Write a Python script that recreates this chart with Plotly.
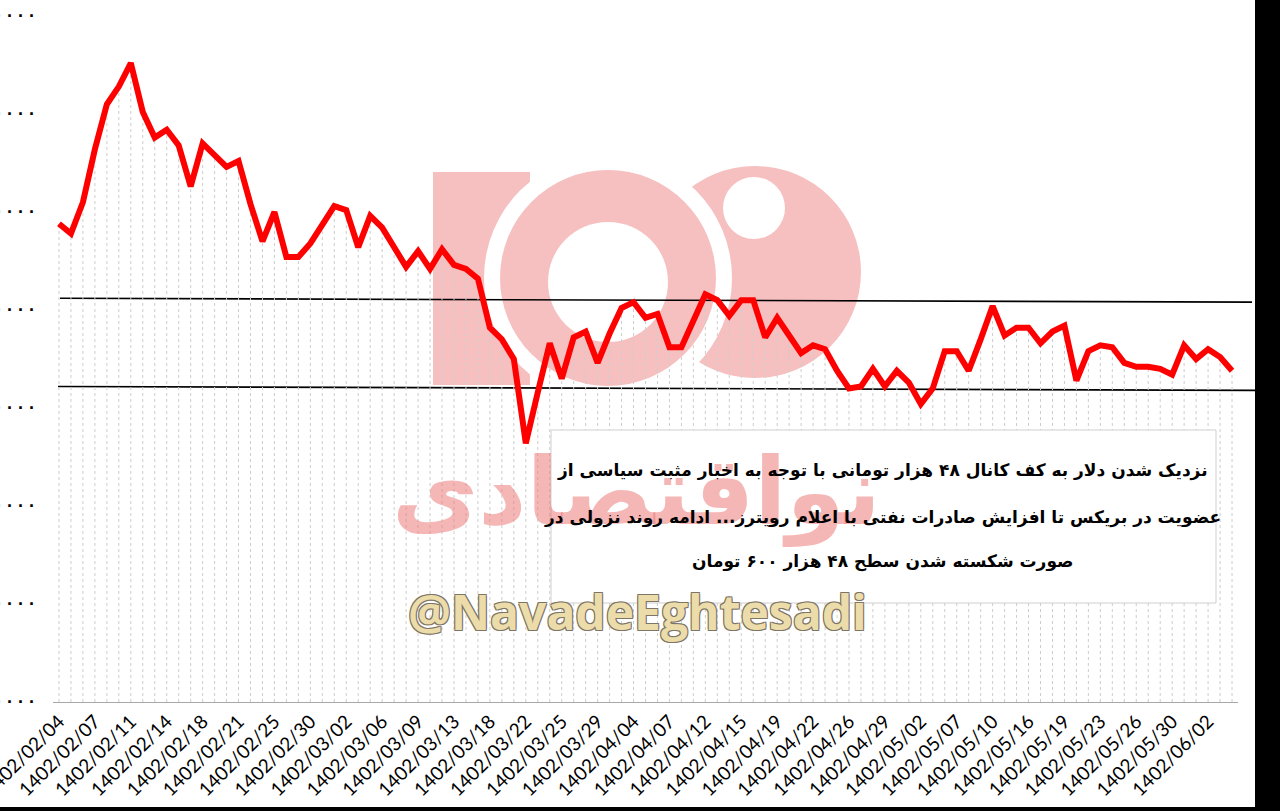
import plotly.graph_objects as go

# ---------------- data ----------------
dates = [
    "1402/02/04", "1402/02/05", "1402/02/06", "1402/02/07", "1402/02/09", "1402/02/10",
    "1402/02/11", "1402/02/12", "1402/02/13", "1402/02/14", "1402/02/16", "1402/02/17",
    "1402/02/18", "1402/02/19", "1402/02/20", "1402/02/21", "1402/02/23", "1402/02/24",
    "1402/02/25", "1402/02/26", "1402/02/27", "1402/02/30", "1402/02/31", "1402/03/01",
    "1402/03/02", "1402/03/03", "1402/03/04", "1402/03/06", "1402/03/07", "1402/03/08",
    "1402/03/09", "1402/03/10", "1402/03/11", "1402/03/13", "1402/03/16", "1402/03/17",
    "1402/03/18", "1402/03/20", "1402/03/21", "1402/03/22", "1402/03/23", "1402/03/24",
    "1402/03/25", "1402/03/27", "1402/03/28", "1402/03/29", "1402/04/01", "1402/04/03",
    "1402/04/04", "1402/04/05", "1402/04/06", "1402/04/07", "1402/04/10", "1402/04/11",
    "1402/04/12", "1402/04/13", "1402/04/14", "1402/04/15", "1402/04/17", "1402/04/18",
    "1402/04/19", "1402/04/20", "1402/04/21", "1402/04/22", "1402/04/24", "1402/04/25",
    "1402/04/26", "1402/04/27", "1402/04/28", "1402/04/29", "1402/04/31", "1402/05/01",
    "1402/05/02", "1402/05/03", "1402/05/04", "1402/05/07", "1402/05/08", "1402/05/09",
    "1402/05/10", "1402/05/14", "1402/05/15", "1402/05/16", "1402/05/17", "1402/05/18",
    "1402/05/19", "1402/05/21", "1402/05/22", "1402/05/23", "1402/05/24", "1402/05/25",
    "1402/05/26", "1402/05/28", "1402/05/29", "1402/05/30", "1402/05/31", "1402/06/01",
    "1402/06/02", "1402/06/04", "1402/06/05",
]

dollar = [
    49440, 49390, 49550, 49820, 50050, 50140, 50260, 50010, 49880, 49920,
    49840, 49630, 49850, 49790, 49730, 49760, 49540, 49350, 49500, 49270,
    49270, 49340, 49430, 49530, 49510, 49320, 49480, 49420, 49320, 49220,
    49300, 49210, 49310, 49230, 49210, 49160, 48910, 48850, 48750, 48320,
    48580, 48830, 48650, 48860, 48890, 48730, 48880, 49010, 49040, 48960,
    48980, 48810, 48810, 48950, 49080, 49050, 48970, 49050, 49050, 48860,
    48960, 48870, 48780, 48820, 48800, 48690, 48600, 48610, 48700, 48610,
    48690, 48630, 48520, 48600, 48790, 48790, 48690, 48850, 49020, 48870,
    48910, 48910, 48830, 48890, 48920, 48640, 48790, 48820, 48810, 48730,
    48710, 48710, 48700, 48670, 48820, 48750, 48800, 48760, 48690,
]

tick_dates = dates[::3]

y_ticks = [47000, 47500, 48000, 48500, 49000, 49500, 50000, 50500]
y_tick_text = ["· · · ·" for _ in y_ticks]

channel_top = [49060, 49040]      # left end, right end
channel_bottom = [48610, 48590]

note_lines = [
    "نزدیک شدن دلار به کف کانال ۴۸ هزار تومانی با توجه به اخبار مثبت سیاسی از",
    "عضویت در بریکس تا افزایش صادرات نفتی با اعلام رویترز... ادامه روند نزولی در",
    "صورت شکسته شدن سطح ۴۸ هزار ۶۰۰ تومان",
]
watermark_fa = "نواقتصادی"
watermark_en = "@NavadeEghtesadi"

# ---------------- layout helpers (pixel -> paper) ----------------
W, H = 1280, 811
PL, PR, PT, PB = 53, 1238, 16, 702


def px(x):
    return (x - PL) / (PR - PL)


def py(y):
    return (PB - y) / (PB - PT)


def circ(cx, cy, r, color, layer="below"):
    return dict(type="circle", xref="paper", yref="paper", layer=layer,
                x0=px(cx - r), x1=px(cx + r), y0=py(cy + r), y1=py(cy - r),
                fillcolor=color, line=dict(width=0))


y_floor = y_ticks[0]

drop_x, drop_y = [], []
for d, v in zip(dates, dollar):
    drop_x += [d, d, None]
    drop_y += [y_floor, v, None]

fig = go.Figure()
fig.add_trace(go.Scatter(
    x=drop_x, y=drop_y, mode="lines",
    line=dict(color="#cdcdcd", width=1, dash="dot"),
    hoverinfo="skip", showlegend=False,
))
fig.add_trace(go.Scatter(
    x=dates, y=dollar, mode="lines",
    line=dict(color="#ff0000", width=6),
    showlegend=False,
))

pink = "#f7c0c0"
shapes = []
# white canvas inside the black frame
shapes.append(dict(type="rect", xref="paper", yref="paper", layer="below",
                   x0=px(-2), x1=px(1255), y0=py(807), y1=py(-2),
                   fillcolor="white", line=dict(width=0)))
# watermark logo (decorative)
shapes.append(dict(type="rect", xref="paper", yref="paper", layer="below",
                   x0=px(433), x1=px(530), y0=py(385), y1=py(172),
                   fillcolor=pink, line=dict(width=0)))
shapes.append(circ(755, 272, 106, pink))
shapes.append(circ(608, 278, 124, "white"))
shapes.append(circ(608, 278, 108, pink))
shapes.append(circ(608, 282, 60, "white"))
shapes.append(circ(754, 208, 31, "white"))

# channel lines
shapes.append(dict(type="line", xref="paper", yref="y", layer="below",
                   x0=px(60), x1=px(1252), y0=channel_top[0], y1=channel_top[1],
                   line=dict(color="black", width=1.6)))
shapes.append(dict(type="line", xref="paper", yref="y", layer="below",
                   x0=px(58), x1=px(1255), y0=channel_bottom[0], y1=channel_bottom[1],
                   line=dict(color="black", width=1.6)))
# note box
shapes.append(dict(type="rect", xref="paper", yref="paper", layer="above",
                   x0=px(551), x1=px(1216), y0=py(603), y1=py(430),
                   fillcolor="white", line=dict(color="#cfcfcf", width=1)))
# black frame bands
shapes.append(dict(type="rect", xref="paper", yref="paper", layer="above",
                   x0=px(1255), x1=px(1280), y0=py(811), y1=py(0),
                   fillcolor="black", line=dict(width=0)))
shapes.append(dict(type="rect", xref="paper", yref="paper", layer="above",
                   x0=px(0), x1=px(1280), y0=py(811), y1=py(807),
                   fillcolor="black", line=dict(width=0)))

annotations = []
annotations.append(dict(
    text=watermark_fa, xref="paper", yref="paper", x=px(636), y=py(492),
    xanchor="center", yanchor="middle", showarrow=False,
    font=dict(family="DejaVu Sans", size=94, color="rgba(236,110,110,0.5)", weight="bold"),
))
line_y = [470, 517, 561]
for t, yy in zip(note_lines, line_y):
    annotations.append(dict(
        text=t, xref="paper", yref="paper", x=px(882), y=py(yy),
        xanchor="center", yanchor="middle", showarrow=False,
        font=dict(family="DejaVu Sans", size=17, color="black", weight="bold"),
    ))
annotations.append(dict(
    text=watermark_en, xref="paper", yref="paper", x=px(637), y=py(611),
    xanchor="center", yanchor="middle", showarrow=False,
    font=dict(family="Open Sans", size=48, color="#ecdcaa", weight="bold",
              shadow="-1px -1px 0 #7d7566, 1px -1px 0 #7d7566, -1px 1px 0 #7d7566, 1px 1px 0 #7d7566"),
))

fig.update_layout(
    width=W, height=H, autosize=False,
    margin=dict(l=PL, r=W - PR, t=PT, b=H - PB, autoexpand=False),
    paper_bgcolor="black", plot_bgcolor="rgba(0,0,0,0)",
    shapes=shapes, annotations=annotations,
    xaxis=dict(
        type="category", categoryorder="array", categoryarray=dates,
        range=[-0.5, len(dates) - 0.5], automargin=False,
        tickmode="array", tickvals=tick_dates, ticktext=tick_dates,
        tickangle=-45, ticks="", showgrid=False, zeroline=False,
        showline=True, linecolor="#a8a8a8", linewidth=1,
        tickfont=dict(family="Lato", size=19, color="black"),
    ),
    yaxis=dict(
        range=[y_ticks[0], y_ticks[-1]], automargin=False,
        tickmode="array", tickvals=y_ticks, ticktext=y_tick_text,
        showgrid=False, zeroline=False, showline=False, ticks="",
        ticklabelstandoff=17,
        tickfont=dict(family="Liberation Sans", size=18, color="black", weight="bold"),
    ),
)

fig.write_html(
    "out.html",
    config={"displayModeBar": False},
    post_script=(
        "document.documentElement.style.overflow='hidden';"
        "document.body.style.margin='0px';document.body.style.overflow='hidden';"
    ),
)
